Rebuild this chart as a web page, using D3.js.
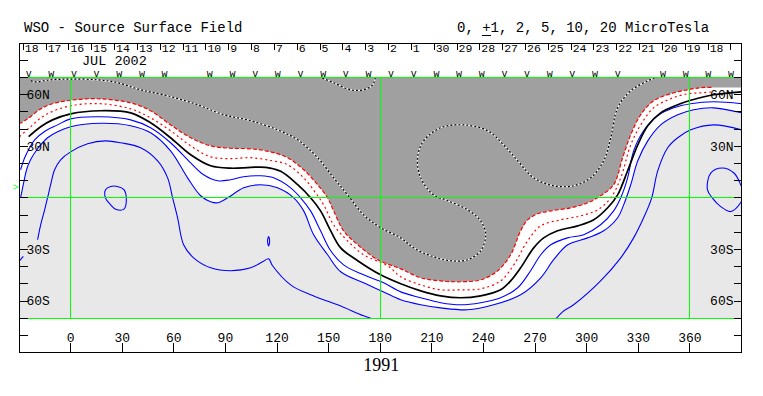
<!DOCTYPE html>
<html>
<head>
<meta charset="utf-8">
<title>WSO - Source Surface Field</title>
<script src="https://cdn.jsdelivr.net/npm/d3@7"></script>
<style>
  body { margin: 0; background: #fff; }
  text { font-family: "Liberation Mono", "DejaVu Sans Mono", monospace; fill: #000; }
</style>
</head>
<body>
<div id="chart"></div>
<script>
// day labels along the top, right to left in time
var days = [18,17,16,15,14,13,12,11,10,9,8,7,6,5,4,3,2,1,30,29,28,27,26,25,24,23,22,21,20,19,18];
var dayStart = -27.5, dayStep = 13.27;
// daily polarity marks above the map ("" = none)
var marks = ["v","w","v","v","w","w","w","","w","w","v","w","v","w","v","w",
             "v","v","w","w","w","v","v","w","v","w","v","","w","w","w","w"];
var markStart = -24.4, markStep = 13.17;
var lonTicks = [0,30,60,90,120,150,180,210,240,270,300,330,360];
var latTicks = [80,70,60,50,40,30,20,10,0,-10,-20,-30,-40,-50,-60,-70,-80];
var latLabels = [60,30,-30,-60];

// contours, [longitude, latitude]
var neutral = [[-24.4,35.5],[-17.4,41.3],[-10.5,45.3],[0,48.8],[17.4,50.6],[34.9,49.4],[46.5,43.6],[58.1,34.9],[69.8,25.0],[81.4,18.6],[93.0,17.2],[104.7,17.7],[113.4,17.7],[122.1,15.4],[132.0,7.6],[139.5,0],[145.3,-7.6],[151.2,-19.2],[157.0,-29.1],[166.9,-36.6],[180.2,-44.8],[191.9,-50.0],[203.5,-54.1],[215.1,-57.0],[226.7,-58.1],[238.4,-57.0],[250.0,-53.5],[255.8,-48.3],[261.6,-40.7],[269.2,-29.1],[275.0,-23.3],[283.1,-19.2],[294.8,-16.3],[304.1,-12.8],[312.2,-5.8],[318.0,1.7],[323.8,15.7],[329.7,30.8],[335.5,41.9],[343.0,49.4],[352.9,54.1],[360.5,56.7],[373.8,59.9],[390,61.6]];

var neg2 = [[-30,43.0],[-25.0,45.9],[-17.4,51.7],[-10.5,54.7],[0,56.7],[15.7,57.6],[34.9,55.2],[46.5,50.6],[58.1,42.4],[69.8,34.9],[81.4,30.2],[93.0,28.8],[104.7,28.5],[116.3,26.7],[126.2,23.3],[135.5,16.3],[143.6,7.6],[149.4,0],[152.9,-7.6],[158.7,-19.2],[166.9,-27.3],[178.5,-36.0],[191.9,-41.3],[203.5,-46.5],[215.1,-48.3],[226.7,-48.8],[238.4,-47.7],[248.3,-42.4],[255.8,-33.1],[261.6,-19.2],[265.7,-12.8],[271.5,-9.3],[279.1,-7.6],[290.7,-5.8],[300.6,-2.9],[308.1,1.2],[315.7,7.6],[320.9,23.3],[325.6,36.6],[331.4,48.3],[338.9,56.4],[348.8,60.5],[358.7,62.8],[366.3,64.0],[373.3,64.2]];

var neg1 = [[-29.7,35.5],[-23.3,41.3],[-14.5,48.3],[0,53.5],[17.4,54.7],[34.9,51.7],[46.5,46.5],[58.1,39.0],[69.8,30.2],[81.4,23.8],[93.0,22.8],[104.7,23.3],[116.3,21.7],[126.2,19.2],[135.5,11.6],[142.4,2.9],[147.1,-4.1],[152.9,-15.7],[161.0,-25.0],[170.3,-33.1],[184.3,-39.5],[191.9,-45.9],[203.5,-50.6],[215.1,-53.5],[226.7,-53.5],[238.4,-52.9],[250.0,-48.3],[257.6,-39.0],[265.7,-25.0],[273.3,-16.3],[284.9,-12.8],[296.5,-10.5],[306.4,-7.0],[314.0,0],[319.8,11.6],[325.6,30.8],[331.4,42.4],[338.9,52.3],[348.8,57.6],[358.7,60.5],[366.3,61.0],[373.3,61.6]];

var pos1 = [[-29.1,16.3],[-26.7,23.3],[-23.8,29.1],[-20.9,33.7],[-14.5,39.0],[-7.6,42.4],[0,45.9],[17.4,47.1],[34.9,45.3],[46.5,40.7],[58.1,32.0],[69.8,20.3],[77.3,13.4],[85.5,9.9],[93.0,10.5],[100.6,12.2],[110.5,12.8],[118.0,11.6],[127.9,5.8],[133.7,0],[139.5,-7.6],[145.3,-19.2],[151.2,-30.8],[158.7,-39.0],[170.3,-44.8],[182.0,-49.4],[191.9,-54.7],[203.5,-58.1],[215.1,-61.0],[226.7,-62.2],[238.4,-61.0],[250.0,-58.1],[259.9,-52.3],[267.4,-42.4],[273.3,-33.1],[279.1,-27.3],[288.9,-23.3],[298.3,-21.5],[308.1,-15.7],[315.7,-7.6],[319.8,0],[323.8,11.6],[327.3,27.3],[333.1,39.0],[341.3,47.7],[350.6,52.3],[360.5,54.7],[373.8,55.8],[390,54.7]];

var pos2 = [[-29.1,0],[-27.3,8.7],[-25.6,16.3],[-23.3,22.1],[-19.2,28.5],[-13.4,34.9],[-7.6,38.4],[0,41.3],[17.4,43.3],[34.9,41.9],[46.5,37.8],[58.1,27.3],[68.0,11.6],[75.6,1.2],[81.4,-2.3],[85.5,-2.9],[91.3,0],[100.6,5.8],[110.5,7.6],[120.3,5.8],[129.7,0],[135.5,-7.6],[141.3,-21.5],[149.4,-33.1],[157.0,-43.0],[170.3,-49.4],[182.0,-54.7],[191.9,-59.3],[203.5,-62.2],[215.1,-64.0],[230.8,-65.1],[245.9,-62.2],[261.6,-56.4],[273.3,-46.5],[280.8,-36.0],[289.0,-27.3],[300.6,-23.3],[309.9,-19.2],[318.0,-11.6],[321.5,-4.1],[325.6,7.6],[329.7,21.5],[335.5,33.1],[343.0,42.4],[352.9,48.3],[362.2,51.2],[373.8,52.3],[390,49.4]];

var pos5a = [[-19.2,-24.4],[-17.4,-15.7],[-15.1,-7.0],[-13.4,0],[-11.6,7.6],[-9.3,16.3],[-5.8,22.1],[0,26.7],[9.9,31.4],[20.3,33.1],[29.1,32.0],[40.7,29.1],[50.6,21.5],[56.4,11.6],[59.3,0],[62.2,-11.6],[65.7,-27.3],[71.5,-34.9],[81.4,-40.7],[93.0,-42.4],[104.7,-40.7],[111.6,-37.2],[115.1,-35.5],[117.4,-39.5],[127.9,-50.6],[139.5,-56.4],[155.2,-62.2],[170.3,-68.6],[175.6,-70.5]];
var pos5b = [[282.0,-70.5],[286.0,-66.3],[292.4,-62.2],[308.1,-48.3],[319.8,-34.9],[327.3,-23.3],[333.1,-11.6],[337.8,0],[341.3,15.7],[347.1,29.1],[352.9,34.9],[360.5,39.5],[373.8,42.4],[390,39.5]];
var pos5c = [[-30,-37],[-27.5,-34]];

var loopLeft = [[20.3,4.7],[23.3,6.6],[27.2,6.6],[31.0,4.7],[32.4,-1.0],[31.0,-6.6],[26.2,-6.6],[23.3,-4.1],[20.3,-0.2]];
var loopRight = [[370.2,4.7],[372.1,14.4],[378.9,17.3],[385.6,14.4],[389.5,7.7],[391.3,1.9],[389.5,-2.9],[383.7,-8.0],[377.9,-5.1],[373.1,-0.2]];
var loopTiny = [[115.1,-22.5],[115.7,-25.2],[115.1,-28.0],[114.5,-25.2]];

var neg5a = [[-23.0,68.2],[-21.5,67.4],[-11.6,68.6],[0,69.0],[15.7,68.6],[27.3,66.9],[40.7,62.8],[56.4,59.3],[73.8,54.1],[89.0,48.3],[104.7,44.8],[120.3,39.5],[132.0,33.7],[143.6,23.3],[152.9,11.6],[161.0,1.7],[170.3,-9.9],[180.2,-17.4],[191.9,-23.3],[199.4,-29.1],[209.3,-33.7],[220.9,-36.6],[230.8,-36.0],[238.4,-30.8],[241.3,-21.5],[238.4,-13.4],[230.8,-7.0],[219.2,-1.7],[211.0,1.7],[203.5,11.6],[201.7,23.3],[205.2,33.1],[215.1,40.7],[228.5,42.4],[242.4,39.0],[251.7,30.8],[259.9,21.5],[269.2,11.6],[280.8,7.0],[292.4,7.0],[302.3,11.6],[309.9,21.5],[314.0,34.9],[318.0,52.3],[325.6,62.2],[335.5,68.0],[341.3,70.5]];
var neg5b = [[144.2,70.5],[152.9,66.9],[162.8,62.8],[170.3,62.8],[175.6,65.7],[177.3,70.5]];

var w = 763, h = 396;
var svg = d3.select("#chart").append("svg").attr("width", w).attr("height", h);

var x = d3.scaleLinear().domain([-30, 390]).range([19, 741.5]);
var y = d3.scaleLinear().domain([90, -90]).range([43, 352.6]);
// pixel-centred positions for the 1px rules
function px(v) { return Math.round(x(v) - 0.5) + 0.5; }
function py(v) { return Math.round(y(v) - 0.5) + 0.5; }

var line = d3.line().x(function(d) { return x(d[0]); }).y(function(d) { return y(d[1]); })
  .curve(d3.curveCatmullRom.alpha(0.5));
var loop = d3.line().x(function(d) { return x(d[0]); }).y(function(d) { return y(d[1]); })
  .curve(d3.curveCatmullRomClosed.alpha(0.5));

// region from the top of the map down to a contour
function above(pts) {
  var last = pts[pts.length - 1];
  return "M" + x(-30) + "," + y(70) + "L" + x(-30) + "," + y(pts[0][1]) +
    line(pts).replace(/^M/, "L") +
    "L" + x(390) + "," + y(last[1]) + "L" + x(390) + "," + y(70) + "Z";
}

svg.append("clipPath").attr("id", "map").append("rect")
  .attr("x", x(-30)).attr("y", y(70))
  .attr("width", x(390) - x(-30)).attr("height", y(-70) - y(70));

var map = svg.append("g").attr("clip-path", "url(#map)");

map.append("rect").attr("x", x(-30)).attr("y", y(70))
  .attr("width", x(390) - x(-30)).attr("height", y(-70) - y(70)).attr("fill", "#e8e8e8");
map.append("path").attr("d", above(pos2)).attr("fill", "#fff");
map.append("path").attr("d", above(neg2)).attr("fill", "#a0a0a0");

// positive contours
[pos1, pos2, pos5a, pos5b, pos5c].forEach(function(p) {
  map.append("path").attr("d", line(p)).attr("fill", "none")
    .attr("stroke", "#0000ff").attr("stroke-width", 1.1);
});
[loopLeft, loopRight, loopTiny].forEach(function(p) {
  map.append("path").attr("d", loop(p)).attr("fill", "none")
    .attr("stroke", "#0000ff").attr("stroke-width", 1.1);
});

// negative contours
map.append("path").attr("d", line(neg1)).attr("fill", "none")
  .attr("stroke", "#ff0000").attr("stroke-width", 1.2).attr("stroke-dasharray", "2,3");
map.append("path").attr("d", line(neg2)).attr("fill", "none")
  .attr("stroke", "#ff0000").attr("stroke-width", 1.2).attr("stroke-dasharray", "4,2");
[neg5a, neg5b].forEach(function(p) {
  map.append("path").attr("d", line(p)).attr("fill", "none")
    .attr("stroke", "#fff").attr("stroke-width", 1.2);
  map.append("path").attr("d", line(p)).attr("fill", "none")
    .attr("stroke", "#000").attr("stroke-width", 1.2).attr("stroke-dasharray", "2,2");
});

// neutral line
map.append("path").attr("d", line(neutral)).attr("fill", "none")
  .attr("stroke", "#000").attr("stroke-width", 1.7);

// green grid
var green = svg.append("g").attr("stroke", "#00ff00").attr("stroke-width", 1).attr("shape-rendering", "crispEdges");
[70, 0, -70].forEach(function(la) {
  green.append("line").attr("x1", px(-30)).attr("x2", px(390)).attr("y1", py(la)).attr("y2", py(la));
});
[0, 180, 360].forEach(function(lo) {
  green.append("line").attr("x1", px(lo)).attr("x2", px(lo)).attr("y1", py(70)).attr("y2", py(-70));
});
svg.append("text").attr("x", 13).attr("y", y(4.5)).attr("font-size", "9px")
  .style("fill", "#00ff00").text(">");

// frame
var axes = svg.append("g").attr("stroke", "#000").attr("shape-rendering", "crispEdges");
axes.append("rect").attr("x", px(-30)).attr("y", py(90))
  .attr("width", px(390) - px(-30)).attr("height", py(-90) - py(90)).attr("fill", "none");

latTicks.forEach(function(la) {
  axes.append("line").attr("x1", px(-30)).attr("x2", px(-30) + 8).attr("y1", py(la)).attr("y2", py(la));
  axes.append("line").attr("x1", px(390) - 8).attr("x2", px(390)).attr("y1", py(la)).attr("y2", py(la));
});
lonTicks.forEach(function(lo) {
  axes.append("line").attr("x1", px(lo)).attr("x2", px(lo)).attr("y1", py(-90) - 10).attr("y2", py(-90));
});

function latName(la) { return Math.abs(la) + (la > 0 ? "N" : "S"); }
latLabels.forEach(function(la) {
  svg.append("text").attr("x", x(-30) + 7.5).attr("y", y(la) + 4.3)
    .attr("font-size", "13px").text(latName(la));
  svg.append("text").attr("x", x(390) - 8).attr("y", y(la) + 4.3)
    .attr("font-size", "13px").attr("text-anchor", "end").text(latName(la));
});
lonTicks.forEach(function(lo) {
  svg.append("text").attr("x", x(lo)).attr("y", 341.7)
    .attr("font-size", "13px").attr("text-anchor", "middle").text(lo);
});

// day ticks and labels
days.forEach(function(d, i) {
  var lo = dayStart + i * dayStep;
  axes.append("line").attr("x1", px(lo)).attr("x2", px(lo)).attr("y1", py(90)).attr("y2", py(90) + 6);
  svg.append("text").attr("x", x(lo) + 1.5).attr("y", 52)
    .attr("font-size", "11.5px").text(d);
});
var lastTick = dayStart + days.length * dayStep;
axes.append("line").attr("x1", px(lastTick)).attr("x2", px(lastTick)).attr("y1", py(90)).attr("y2", py(90) + 6);

marks.forEach(function(m, i) {
  if (!m) return;
  svg.append("text").attr("x", x(markStart + i * markStep)).attr("y", 76.5)
    .attr("font-size", "10px").attr("text-anchor", "middle").text(m);
});

svg.append("text").attr("x", 82).attr("y", 65).attr("font-size", "13.5px").text("JUL 2002");
svg.append("text").attr("x", 24).attr("y", 32.3).attr("font-size", "14px").text("WSO - Source Surface Field");
var legend = svg.append("text").attr("x", 457).attr("y", 32.3).attr("font-size", "14px")
  .text("0, +1, 2, 5, 10, 20 MicroTesla");
var ln = legend.node();
var ux = 457 + ln.getSubStringLength(0, 3), uw = ln.getSubStringLength(3, 1);
svg.append("line").attr("x1", ux).attr("x2", ux + uw).attr("y1", 35.5).attr("y2", 35.5)
  .attr("stroke", "#000").attr("shape-rendering", "crispEdges");

svg.append("text").attr("x", x(180) + 1).attr("y", 371)
  .attr("font-size", "18px").attr("text-anchor", "middle")
  .style("font-family", "'Liberation Serif', serif").text("1991");
</script>
</body>
</html>
